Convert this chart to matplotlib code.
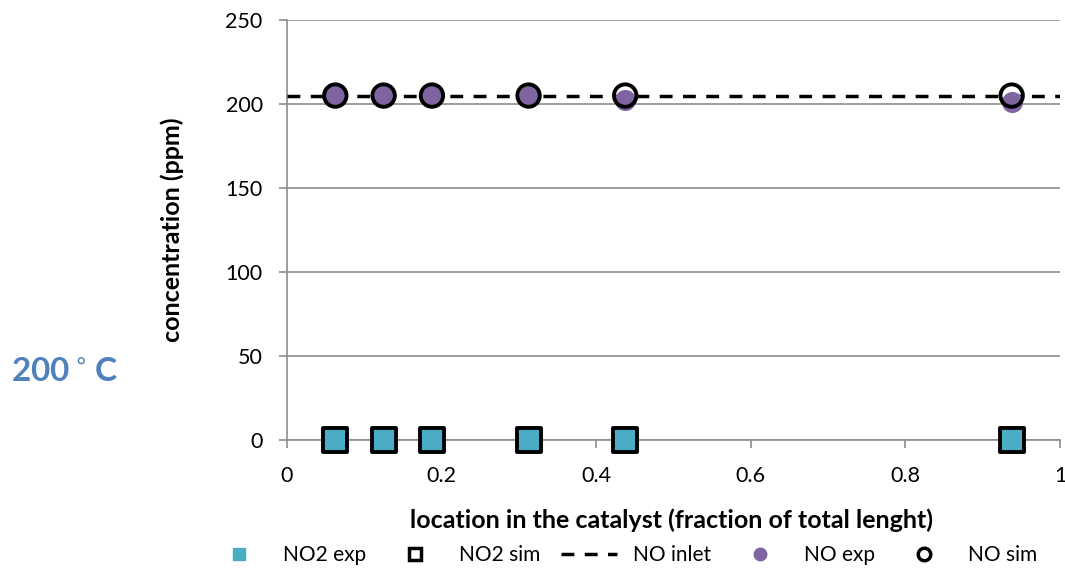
import numpy as np
import matplotlib.pyplot as plt
from matplotlib.lines import Line2D

plt.rcParams['font.family'] = ['Lato', 'DejaVu Sans']

# data
loc = [0.0625, 0.125, 0.1875, 0.3125, 0.4375, 0.9375]
no2_exp = [0, 0, 0, 0, 0, 0]
no2_sim = [0, 0, 0, 0, 0, 0]
no_exp = [205, 205, 205, 205, 202.5, 201]
no_sim = [205, 205, 205, 205, 205, 205]
no_inlet = 205

fig = plt.figure(figsize=(10.65, 5.69), dpi=100)
ax = fig.add_axes([0.2695, 0.2267, 0.7258, 0.7382])

grid_c = '#8c8c8c'
ax.set_xlim(0, 1)
ax.set_ylim(0, 250)
ax.set_yticks([0, 50, 100, 150, 200, 250])
ax.set_xticks([0, 0.2, 0.4, 0.6, 0.8, 1.0])
ax.set_xticklabels(['0', '0.2', '0.4', '0.6', '0.8', '1'])
ax.yaxis.grid(True, color=grid_c, lw=1.2)
ax.set_axisbelow(True)
for s in ['top', 'right']:
    ax.spines[s].set_visible(False)
for s in ['left', 'bottom']:
    ax.spines[s].set_color(grid_c)
    ax.spines[s].set_linewidth(1.2)
ax.tick_params(axis='both', colors=grid_c, length=6, width=1.2, labelsize=15.5, labelcolor='black')
ax.tick_params(axis='x', pad=13)
ax.tick_params(axis='y', length=5.5, pad=12)

ax.axhline(no_inlet, color='black', lw=2.5, ls=(0, (3.7, 3)), zorder=3)
ax.scatter(loc, no2_exp, marker='s', s=230, color='#4bacc6', zorder=4, clip_on=False)
ax.scatter(loc, no2_sim, marker='s', s=300, facecolors='none', edgecolors='black', linewidths=2.8, zorder=5, clip_on=False)
ax.scatter(loc, no_exp, marker='o', s=200, color='#8064a2', zorder=4)
ax.scatter(loc, no_sim, marker='o', s=260, facecolors='none', edgecolors='black', linewidths=2.8, zorder=5)

ax.set_ylabel('concentration (ppm)', fontsize=18, fontweight='bold')
ax.set_xlabel('location in the catalyst (fraction of total lenght)', fontsize=18, fontweight='bold')
ax.yaxis.set_label_coords(-0.133, 0.5)
ax.xaxis.set_label_coords(0.498, -0.162)

fig.text(0.06, 0.3445, '200$^\\circ$C', fontsize=24, fontweight='bold', color='#4f81bd', ha='center', va='center')

handles = [
    Line2D([], [], ls='none', marker='s', ms=9, color='#4bacc6'),
    Line2D([], [], ls='none', marker='s', ms=9, mfc='none', mec='black', mew=2.5),
    Line2D([], [], color='black', lw=2.5, ls=(0, (3.7, 3))),
    Line2D([], [], ls='none', marker='o', ms=9, color='#8064a2'),
    Line2D([], [], ls='none', marker='o', ms=9, mfc='none', mec='black', mew=2.5),
]
labels = ['NO2 exp', 'NO2 sim', 'NO inlet', 'NO exp', 'NO sim']
fig.legend(handles, labels, loc='center', bbox_to_anchor=(0.586, 0.0246), ncol=5, frameon=False,
           fontsize=15, handlelength=2.7, columnspacing=1.0, handletextpad=0.75)

fig.savefig('out.png', dpi=100)
